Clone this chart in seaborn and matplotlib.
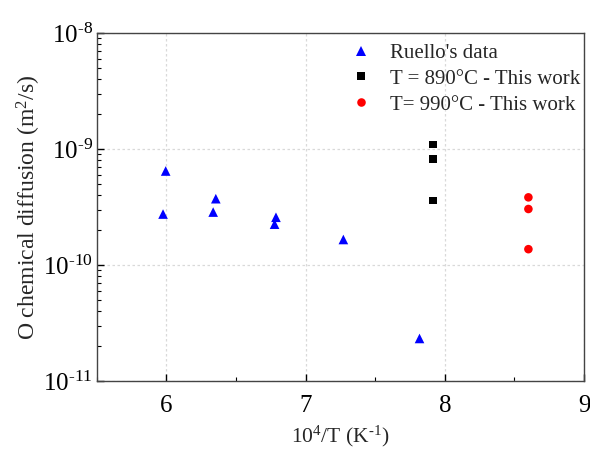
import matplotlib
matplotlib.use("Agg")
import matplotlib.pyplot as plt
import numpy as np
import pandas as pd
import seaborn as sns
from matplotlib.ticker import FuncFormatter, LogLocator, MultipleLocator, NullFormatter

# Ruello's data
ruello_x = [5.995, 5.976, 6.355, 6.336, 6.787, 6.777, 7.271, 7.818]
ruello_d = [6.46e-10, 2.75e-10, 3.73e-10, 2.86e-10, 2.58e-10, 2.25e-10, 1.66e-10, 2.33e-11]
# This work, T = 890 C
t890_x = [7.916, 7.916, 7.916]
t890_d = [1.09e-9, 8.24e-10, 3.61e-10]
# This work, T = 990 C
t990_x = [8.60, 8.60, 8.60]
t990_d = [3.83e-10, 3.04e-10, 1.37e-10]

labels = ["Ruello's data", "T = 890°C - This work", "T= 990°C - This work"]

df = pd.concat([
    pd.DataFrame({"x": ruello_x, "D": ruello_d, "series": labels[0]}),
    pd.DataFrame({"x": t890_x, "D": t890_d, "series": labels[1]}),
    pd.DataFrame({"x": t990_x, "D": t990_d, "series": labels[2]}),
])

sns.set_theme(style="ticks")
plt.rcParams["font.family"] = ["Liberation Serif", "DejaVu Serif"]
plt.rcParams["mathtext.fontset"] = "custom"
plt.rcParams["mathtext.rm"] = "Liberation Serif"
plt.rcParams["mathtext.it"] = "Liberation Serif:italic"
plt.rcParams["axes.unicode_minus"] = False

fig = plt.figure(figsize=(5.9, 4.51), dpi=100)
ax = fig.add_axes([0.164, 0.155, 0.826, 0.772])

sns.scatterplot(
    data=df, x="x", y="D", hue="series", style="series", size="series",
    palette={labels[0]: "#0000ff", labels[1]: "black", labels[2]: "#ff0000"},
    markers={labels[0]: "^", labels[1]: "s", labels[2]: "o"},
    sizes={labels[0]: 48, labels[1]: 30, labels[2]: 38},
    linewidth=0, ax=ax,
)

ax.set_yscale("log")
ax.set_xlim(5.5, 9)
ax.set_ylim(1e-11, 1e-8)
ax.xaxis.set_major_locator(MultipleLocator(1))
ax.xaxis.set_minor_locator(MultipleLocator(0.5))
ax.yaxis.set_major_locator(LogLocator(base=10, numticks=10))
ax.yaxis.set_minor_locator(LogLocator(base=10, subs=np.arange(2, 10), numticks=10))
ax.yaxis.set_minor_formatter(NullFormatter())
ax.yaxis.set_major_formatter(
    FuncFormatter(lambda v, pos: r"10$^{\text{-%d}}$" % round(-np.log10(v)))
)

ax.grid(True, which="major", color="#d9d9d9", linestyle=(0, (2, 2)), linewidth=0.9)
ax.tick_params(which="both", direction="in", top=False, right=False, labelsize=18, colors="black")
ax.tick_params(which="major", length=5, width=1)
ax.tick_params(which="minor", length=3, width=0.8)
ax.tick_params(axis="x", pad=10)
ax.tick_params(axis="y", pad=3)
for sp in ax.spines.values():
    sp.set_color("#444444")
    sp.set_linewidth(1)

ax.set_xlabel("10$^4$/T (K$^{\\text{-1}}$)", fontsize=15.5, labelpad=5)
ax.set_ylabel("O chemical diffusion (m$^2$/s)", fontsize=17, labelpad=0)

ax.legend(loc="upper right", bbox_to_anchor=(1.014, 1.0), frameon=False, fontsize=15,
          handletextpad=0.4, labelspacing=0.3, borderaxespad=0.2, borderpad=0.3)

fig.savefig("out.png", dpi=100)
